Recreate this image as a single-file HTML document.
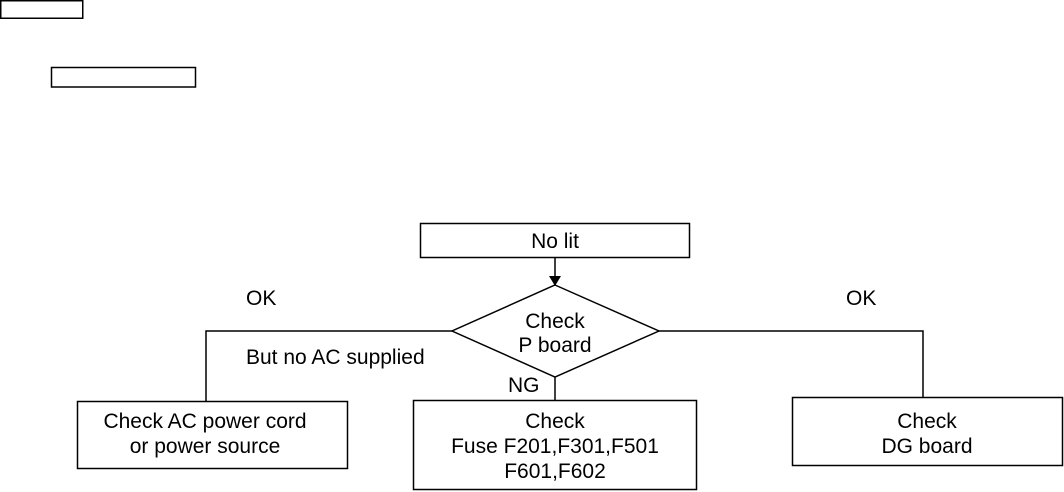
<!DOCTYPE html>
<html><head><meta charset="utf-8"><style>
html,body{margin:0;padding:0;background:#fff;}
svg{display:block;}
text{font-family:"Liberation Sans",Arial,sans-serif;font-size:21px;fill:#000;}
</style></head><body>
<svg width="1064" height="492" viewBox="0 0 1064 492" xmlns="http://www.w3.org/2000/svg">
<g fill="none" stroke="#000" stroke-width="1.5">
<rect x="0.75" y="0.75" width="82" height="17.5"/>
<rect x="51.5" y="67.5" width="144" height="19.5"/>
<rect x="420.5" y="223.5" width="269" height="34"/>
<line x1="555" y1="258" x2="555" y2="277"/>
<polygon points="555,285 659,331 555,377 452,331"/>
<polyline points="452,331 206,331 206,401"/>
<polyline points="659,331 923,331 923,397"/>
<line x1="555" y1="377" x2="555" y2="400"/>
<rect x="77.5" y="401.5" width="270" height="67"/>
<rect x="413.5" y="400.5" width="283" height="89"/>
<rect x="792.5" y="397.5" width="270" height="68"/>
</g>
<polygon points="549,276 561,276 555,286" fill="#000"/>
<g text-anchor="middle">
<text x="555" y="248">No lit</text>
<text x="555" y="328">Check</text>
<text x="555" y="352">P board</text>
<text x="205" y="428">Check AC power cord</text>
<text x="205" y="453">or power source</text>
<text x="555" y="428">Check</text>
<text x="555" y="453">Fuse F201,F301,F501</text>
<text x="555" y="478">F601,F602</text>
<text x="927" y="428">Check</text>
<text x="927" y="453">DG board</text>
</g>
<text x="246" y="305">OK</text>
<text x="246" y="364">But no AC supplied</text>
<text x="508" y="392">NG</text>
<text x="846" y="305">OK</text>
</svg>
</body></html>
